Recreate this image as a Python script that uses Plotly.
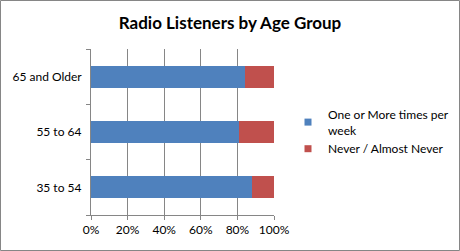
import plotly.graph_objects as go

categories = ["35 to 54", "55 to 64", "65 and Older"]
weekly = [0.88, 0.81, 0.84]
never = [0.12, 0.19, 0.16]
series_names = ["One or More times per<br>week", "Never / Almost Never"]
series_colors = ["#4F81BD", "#C0504D"]
x_ticks = [0, 0.2, 0.4, 0.6, 0.8, 1.0]
x_tick_labels = ["0%", "20%", "40%", "60%", "80%", "100%"]

W, H = 460, 251
ml, mr, mt, mb = 91, 186, 49, 36
pw, ph = W - ml - mr, H - mt - mb

fig = go.Figure()
for vals, name, col in zip([weekly, never], series_names, series_colors):
    fig.add_trace(go.Bar(y=categories, x=vals, orientation="h", name=name,
                         marker=dict(color=col, line=dict(width=0)), showlegend=False))
# legend-only entries with small square swatches
for name, col in zip(series_names, series_colors):
    fig.add_trace(go.Scatter(x=[None], y=[None], mode="markers", name=name,
                             marker=dict(symbol="square", size=7, color=col)))

font = "Lato"
fig.update_layout(
    width=W, height=H,
    margin=dict(l=ml, r=mr, t=mt, b=mb, autoexpand=False),
    barmode="stack", bargap=0.6,
    paper_bgcolor="white", plot_bgcolor="white",
    font=dict(family=font, size=12, color="black"),
    title=dict(text="<b>Radio Listeners by Age Group</b>", x=0.5, xanchor="center",
               y=1 - 23 / H, yanchor="middle", font=dict(size=17, family=font)),
    legend=dict(x=(288 - ml) / pw, y=(215 - 100) / ph, xanchor="left", yanchor="top",
                font=dict(size=12), traceorder="normal", itemwidth=30,
                tracegroupgap=10, bgcolor="rgba(0,0,0,0)"),
    xaxis=dict(range=[0, 1], tickvals=x_ticks, ticktext=x_tick_labels,
               showgrid=True, gridcolor="#868686", gridwidth=1,
               showline=True, linecolor="#868686", linewidth=1,
               ticks="outside", ticklen=4, tickcolor="#868686", zeroline=False,
               fixedrange=True, automargin=False),
    yaxis=dict(showgrid=False, showline=True, linecolor="#868686", linewidth=1,
               ticks="outside", ticklen=4, tickcolor="#868686", tickson="boundaries",
               ticksuffix="  ", fixedrange=True, automargin=False),
    showlegend=True,
)
fig.add_shape(type="rect", xref="paper", yref="paper",
              x0=-(ml - 0.5) / pw, x1=1 + (mr - 0.5) / pw,
              y0=-(mb - 0.5) / ph, y1=1 + (mt - 0.5) / ph,
              line=dict(color="#868686", width=1), layer="below")
fig.write_html("out.html")
